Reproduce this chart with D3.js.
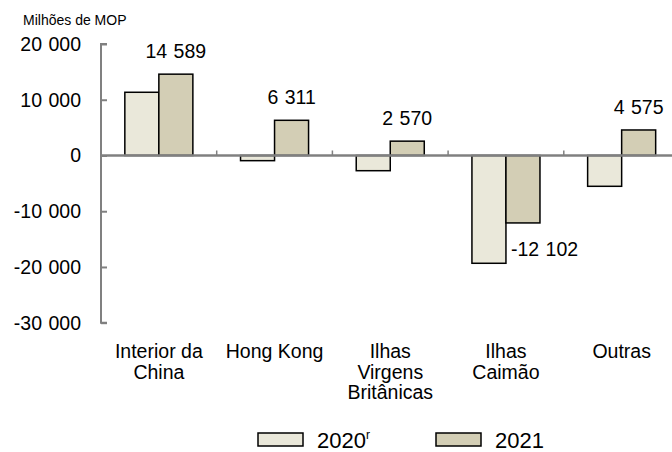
<!DOCTYPE html>
<html><head><meta charset="utf-8">
<script src="https://cdn.jsdelivr.net/npm/d3@7"></script>
<style>body{margin:0;background:#fff}svg{display:block}text{font-family:"Liberation Sans",Arial,sans-serif;fill:#000}.num{word-spacing:1px}</style>
</head><body><svg id="c" width="672" height="452"></svg>
<script>
const categories = ["Interior da|China","Hong Kong","Ilhas|Virgens|Britânicas","Ilhas|Caimão","Outras"];
const series = ["2020","2021"];
const values2020 = [11340, -930, -2730, -19340, -5530];
const values2021 = [14589, 6311, 2570, -12102, 4575];
const yTicks = [20000, 10000, 0, -10000, -20000, -30000];
const yTickLabels = ["20 000","10 000","0","-10 000","-20 000","-30 000"];
const labels2021 = ["14 589","6 311","2 570","-12 102","4 575"];
const colors = {"2020":"#EAE8DA","2021":"#D3CEB5"};

const svg = d3.select("#c");
const y = d3.scaleLinear().domain([-30000,20000]).range([322.7,44]);
const x0 = d3.scaleBand().domain(categories).range([101,679.5]).paddingInner(0.412).paddingOuter(0.206);
const x1 = d3.scaleBand().domain(series).range([0,x0.bandwidth()]);

// y axis
const ya = svg.append("g").attr("transform","translate(101,0)")
  .call(d3.axisRight(y).tickValues(yTicks).tickSize(6).tickFormat(""));
ya.select(".domain").attr("stroke","#808080").attr("stroke-width",2).attr("d","M6,44H0V322.7H6");
ya.selectAll(".tick line").attr("stroke","#808080").attr("stroke-width",2);
svg.append("g").selectAll("text").data(yTicks).join("text").attr("class","num")
  .attr("x",81).attr("y",d=>y(d)+7).attr("text-anchor","end")
  .style("font-size","19.5px").text((d,i)=>yTickLabels[i]);
svg.append("text").attr("x",23).attr("y",25).style("font-size","14px").text("Milhões de MOP");

// bars
const data = categories.map((c,i)=>({c, vals:[{s:"2020",v:values2020[i]},{s:"2021",v:values2021[i]}]}));
const g = svg.append("g").selectAll("g").data(data).join("g")
  .attr("transform",d=>`translate(${x0(d.c)},0)`);
g.selectAll("rect").data(d=>d.vals).join("rect")
  .attr("x",d=>x1(d.s)).attr("width",x1.bandwidth())
  .attr("y",d=>y(Math.max(0,d.v))).attr("height",d=>Math.abs(y(d.v)-y(0)))
  .attr("fill",d=>colors[d.s]).attr("stroke","#000").attr("stroke-width",1.5);

// value labels for 2021
svg.append("g").selectAll("text").data(categories).join("text").attr("class","num")
  .style("font-size","19.5px")
  .attr("text-anchor",(c,i)=>values2021[i]<0?"start":"middle")
  .attr("x",(c,i)=>values2021[i]<0 ? x0(c)+x1("2021")+5 : x0(c)+x1("2021")+x1.bandwidth()/2)
  .attr("y",(c,i)=>values2021[i]<0 ? y(values2021[i])+33 : y(values2021[i])-16)
  .text((c,i)=>labels2021[i]);

// x axis line at zero
svg.append("line").attr("x1",101).attr("x2",672).attr("y1",y(0)).attr("y2",y(0))
  .attr("stroke","#808080").attr("stroke-width",2.5);
svg.append("g").selectAll("line").data(categories.slice(1)).join("line")
  .attr("x1",c=>x0(c)-x0.step()*0.206).attr("x2",c=>x0(c)-x0.step()*0.206)
  .attr("y1",y(0)).attr("y2",y(0)-5).attr("stroke","#808080").attr("stroke-width",1.5);

// category labels
const cl = svg.append("g").selectAll("text").data(categories).join("text")
  .attr("text-anchor","middle").style("font-size","19.5px")
  .attr("transform",c=>`translate(${x0(c)+x0.bandwidth()/2},358)`);
cl.selectAll("tspan").data(c=>c.split("|")).join("tspan")
  .attr("x",0).attr("dy",(d,i)=>i?20.5:0).text(d=>d);

// legend
const lg = svg.append("g").selectAll("g").data(series).join("g")
  .attr("transform",(s,i)=>`translate(${258+i*178},433)`);
lg.append("rect").attr("width",45).attr("height",13).attr("fill",s=>colors[s])
  .attr("stroke","#000").attr("stroke-width",1.5);
const lt = lg.append("text").attr("x",59).attr("y",15).style("font-size","22px").text(s=>s);
lt.filter(s=>s==="2020").append("tspan").attr("dy",-9).style("font-size","12px").text("r");
</script></body></html>
